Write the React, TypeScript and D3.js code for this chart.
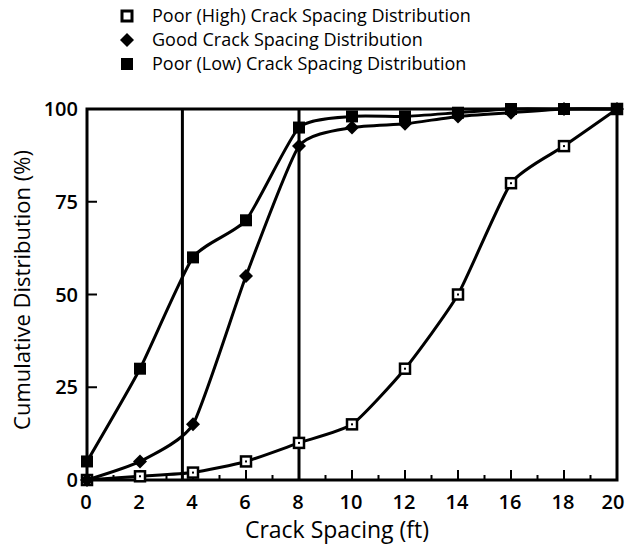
import React from "react";
import * as d3 from "d3";

const spacing = [0, 2, 4, 6, 8, 10, 12, 14, 16, 18, 20];
const poorHigh = [0, 1, 2, 5, 10, 15, 30, 50, 80, 90, 100];
const good = [0, 5, 15, 55, 90, 95, 96, 98, 99, 100, 100];
const poorLow = [5, 30, 60, 70, 95, 98, 98, 99, 100, 100, 100];
const yTicks = [0, 25, 50, 75, 100];
const xTicks = [0, 2, 4, 6, 8, 10, 12, 14, 16, 18, 20];
const refLines = [3.6, 8];
const legendLabels = [
  "Poor (High) Crack Spacing Distribution",
  "Good Crack Spacing Distribution",
  "Poor (Low) Crack Spacing Distribution",
];

const W = 626;
const H = 546;
const FONT = "'Open Sans', Lato, sans-serif";

export default function App() {
  const x = d3.scaleLinear().domain([0, 20]).range([87, 617]);
  const y = d3.scaleLinear().domain([0, 100]).range([480, 109]);
  const line = d3
    .line<[number, number]>()
    .x((d) => x(d[0]))
    .y((d) => y(d[1]))
    .curve(d3.curveCardinal.tension(0.45));

  const series = [
    { vals: poorHigh, kind: "open" },
    { vals: good, kind: "diamond" },
    { vals: poorLow, kind: "filled" },
  ];

  const marker = (kind: string, cx: number, cy: number, key: string | number) => {
    if (kind === "open")
      return (
        <g key={key}>
          <rect x={cx - 5} y={cy - 5} width={10} height={10} fill="#fff" stroke="#000" strokeWidth={2.5} />
          <rect x={cx - 1} y={cy - 1} width={2} height={2} fill="#000" />
        </g>
      );
    if (kind === "diamond")
      return <path key={key} d={`M${cx},${cy - 7}L${cx + 7},${cy}L${cx},${cy + 7}L${cx - 7},${cy}Z`} fill="#000" />;
    return <rect key={key} x={cx - 6} y={cy - 6} width={12} height={12} fill="#000" />;
  };

  const minor = d3.range(1, 20, 2);

  return (
    <svg width={W} height={H} style={{ position: "absolute", left: 0, top: 0, background: "#fff" }} fontFamily={FONT}>
      {legendLabels.map((lab, i) => {
        const ly = 16 + i * 24;
        const kinds = ["open", "diamond", "filled"];
        return (
          <g key={lab}>
            {kinds[i] === "open" ? (
              <rect x={122} y={ly - 5} width={10} height={10} fill="#fff" stroke="#000" strokeWidth={3} />
            ) : (
              marker(kinds[i], 127, ly, "m")
            )}
            <text x={152} y={ly + 6} fontSize={18} fontWeight={500} fill="#000">
              {lab}
            </text>
          </g>
        );
      })}

      {refLines.map((v) => (
        <line key={v} x1={x(v)} x2={x(v)} y1={y(100)} y2={y(0)} stroke="#000" strokeWidth={3} />
      ))}

      {xTicks.slice(1, -1).map((t) => (
        <line key={"xt" + t} x1={x(t)} x2={x(t)} y1={y(0)} y2={y(0) - 10} stroke="#000" strokeWidth={2} />
      ))}
      {minor.map((t) => (
        <line key={"xm" + t} x1={x(t)} x2={x(t)} y1={y(0)} y2={y(0) - 5} stroke="#000" strokeWidth={2} />
      ))}
      {yTicks.slice(1, -1).map((t) => (
        <line key={"yt" + t} x1={x(0)} x2={x(0) + 10} y1={y(t)} y2={y(t)} stroke="#000" strokeWidth={2} />
      ))}

      {series.map((s, i) => (
        <path
          key={"l" + i}
          d={line(spacing.map((v, j) => [v, s.vals[j]] as [number, number])) || ""}
          fill="none"
          stroke="#000"
          strokeWidth={3}
        />
      ))}

      <rect x={x(0)} y={y(100)} width={x(20) - x(0)} height={y(0) - y(100)} fill="none" stroke="#000" strokeWidth={3} />

      {series.map((s, i) => (
        <g key={"m" + i}>{spacing.map((v, j) => marker(s.kind, x(v), y(s.vals[j]), j))}</g>
      ))}

      {yTicks.map((t) => (
        <text key={"yl" + t} x={x(0) - 9} y={y(t) + 7} textAnchor="end" fontSize={20} fontWeight={600} fill="#000">
          {t}
        </text>
      ))}
      {xTicks.map((t) => (
        <text key={"xl" + t} x={x(t) - (t === 20 ? 4 : 1)} y={509} textAnchor="middle" fontSize={20} fontWeight={600} fill="#000">
          {t}
        </text>
      ))}

      <text x={337} y={538} textAnchor="middle" fontSize={23} fontWeight={500} fill="#000">
        Crack Spacing (ft)
      </text>
      <text transform={`translate(30,290) rotate(-90)`} textAnchor="middle" fontSize={22} fontWeight={500} fill="#000">
        Cumulative Distribution (%)
      </text>
    </svg>
  );
}
